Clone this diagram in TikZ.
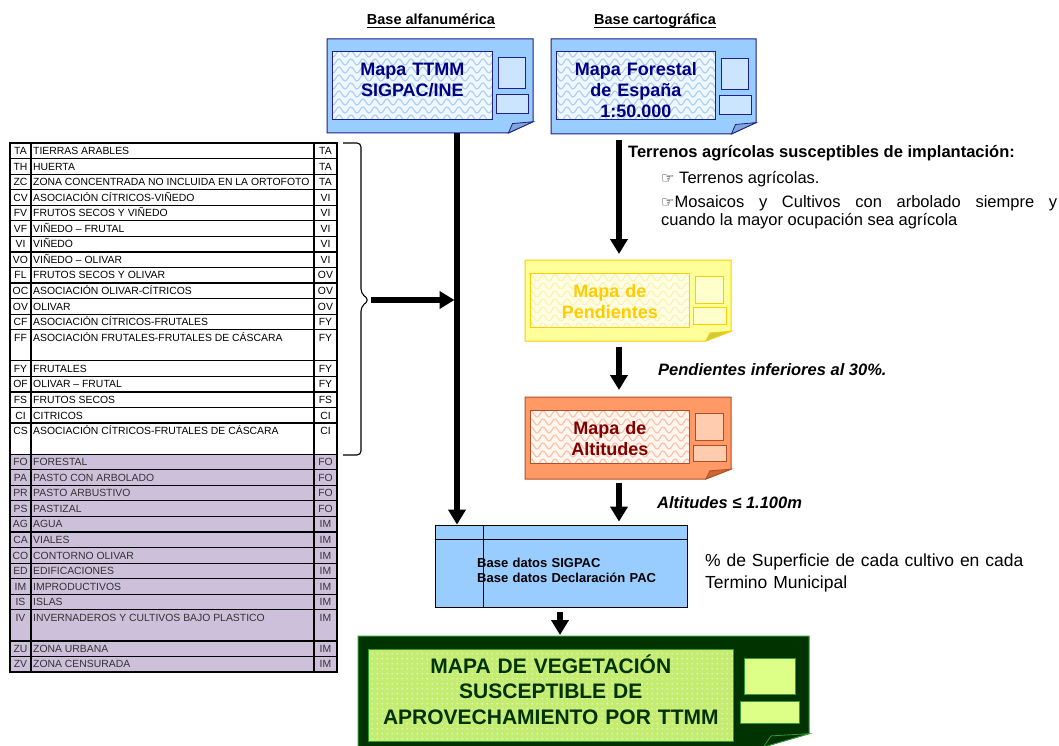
\documentclass[tikz,border=0pt]{standalone}
\usepackage{fontspec}
\setmainfont{Liberation Sans}
\newfontfamily\handfont{DejaVu Sans}
\usetikzlibrary{arrows.meta,patterns}

\definecolor{lilac}{HTML}{CCC0DA}
\definecolor{dbblue}{HTML}{99CCFF}
\definecolor{lilactext}{HTML}{333333}

% colours of one map sheet
\newcommand{\setmapcolors}[7]{%
  \definecolor{mapfill}{HTML}{#1}\definecolor{mapline}{HTML}{#2}%
  \definecolor{mapinner}{HTML}{#3}\definecolor{mapwave}{HTML}{#4}%
  \definecolor{mappanel}{HTML}{#5}\definecolor{maptext}{HTML}{#6}%
  \definecolor{mapfold}{HTML}{#7}}
\setmapcolors{99CCFF}{1F1F8F}{EEF6FF}{A9CDF2}{CCE5FF}{000080}{7FA8D8}

% textures of the map frames
\pgfdeclarepatternformonly{map waves}{\pgfqpoint{-1pt}{-1pt}}{\pgfqpoint{13pt}{9pt}}{\pgfqpoint{12pt}{8pt}}{%
  \pgfsetlinewidth{1pt}%
  \pgfpathmoveto{\pgfqpoint{0pt}{4pt}}%
  \pgfpathcurveto{\pgfqpoint{2pt}{8pt}}{\pgfqpoint{4pt}{8pt}}{\pgfqpoint{6pt}{4pt}}%
  \pgfpathcurveto{\pgfqpoint{8pt}{0pt}}{\pgfqpoint{10pt}{0pt}}{\pgfqpoint{12pt}{4pt}}%
  \pgfusepath{stroke}}
\pgfdeclarepatternformonly{map dots}{\pgfqpoint{0pt}{0pt}}{\pgfqpoint{5pt}{5pt}}{\pgfqpoint{5pt}{5pt}}{%
  \pgfpathcircle{\pgfqpoint{2.5pt}{2.5pt}}{0.8pt}%
  \pgfusepath{fill}}

\tikzset{
  map_inner/.style={preaction={fill=mapinner}, pattern=map waves, pattern color=mapwave},
  pics/map_pic/.style n args={4}{code={
    % sheet with folded corner
    \draw[mapline, fill=mapfill, line width=1pt]
      (0,0) -- (#1,0) -- (#1,{0.88*#2}) -- ({#1-0.6*#3},#2) -- (0,#2) -- cycle;
    \draw[mapline, fill=mapfold, line width=0.8pt]
      ({#1-0.6*#3},#2) -- ({#1-0.5*#3},{0.9*#2}) -- (#1,{0.88*#2}) -- cycle;
    % map frame
    \draw[map_inner, draw=mapline, line width=1pt] ({0.14*#3},13) rectangle ({#1-#3},{#2-#4});
    % legend panels
    \draw[mapline, fill=mappanel, line width=0.8pt] ({#1-0.85*#3},{0.2*#2}) rectangle ({#1-0.18*#3},{0.53*#2});
    \draw[mapline, fill=mappanel, line width=0.8pt] ({#1-0.9*#3},{0.59*#2}) rectangle ({#1-0.12*#3},{0.79*#2});

    % characteristic coordinates of sheet
    \coordinate (-top) at ({#1/2},0);
    \coordinate (-bottom) at ({#1/2},#2);
    \coordinate (-label) at ({(0.14*#3+#1-#3)/2},37);
  }}
}

\begin{document}
\begin{tikzpicture}[x=1pt, y=-1pt,
  flow/.style={line width=5.5pt, -{Triangle[length=15pt, width=17pt]}},
  header/.style={font=\fontsize{14.5}{16}\selectfont\bfseries, inner sep=0pt, anchor=base},
  map_title/.style={font=\fontsize{18}{21}\selectfont\bfseries, text=maptext, text width=170pt, align=center, inner sep=0pt, anchor=base},
  cell/.style={draw, line width=1.2pt, fill=white},
  cell_lilac/.style={cell, fill=lilac},
  cell_text/.style={font=\fontsize{10.4}{12}\selectfont, inner sep=0pt, text height=7.4pt, text depth=0pt},
  note/.style={font=\fontsize{16.5}{18}\selectfont, inner sep=0pt, anchor=base west},
  note_bold/.style={note, font=\fontsize{16.5}{18}\selectfont\bfseries},
  note_italic/.style={note, font=\fontsize{16.5}{18}\selectfont\bfseries\itshape},
  db_box/.style={draw, line width=0.8pt, fill=dbblue, minimum width=252pt, minimum height=82pt, inner sep=0pt},
]
  \useasboundingbox (0,0) rectangle (1059,746);

  % tabla de usos SIGPAC
  \foreach \u/\n/\code/\desc/\grp [evaluate=\u as \ytop using 143+\u*15.56, evaluate=\n as \ybot using 143+(\u+\n)*15.56] in {
    0/1/TA/TIERRAS ARABLES/TA, 1/1/TH/HUERTA/TA,
    2/1/ZC/ZONA CONCENTRADA NO INCLUIDA EN LA ORTOFOTO/TA,
    3/1/CV/ASOCIACIÓN CÍTRICOS-VIÑEDO/VI, 4/1/FV/FRUTOS SECOS Y VIÑEDO/VI,
    5/1/VF/VIÑEDO – FRUTAL/VI, 6/1/VI/VIÑEDO/VI, 7/1/VO/VIÑEDO – OLIVAR/VI,
    8/1/FL/FRUTOS SECOS Y OLIVAR/OV, 9/1/OC/ASOCIACIÓN OLIVAR-CÍTRICOS/OV,
    10/1/OV/OLIVAR/OV, 11/1/CF/ASOCIACIÓN CÍTRICOS-FRUTALES/FY,
    12/2/FF/ASOCIACIÓN FRUTALES-FRUTALES DE CÁSCARA/FY,
    14/1/FY/FRUTALES/FY, 15/1/OF/OLIVAR – FRUTAL/FY, 16/1/FS/FRUTOS SECOS/FS,
    17/1/CI/CITRICOS/CI, 18/2/CS/ASOCIACIÓN CÍTRICOS-FRUTALES DE CÁSCARA/CI}{
    \path[cell] (10,\ytop) rectangle (31,\ybot) (31,\ytop) rectangle (314,\ybot) (314,\ytop) rectangle (337,\ybot);
    \node[cell_text] (code-\u) at (20.5,\ytop+7.8) {\code};
    \node[cell_text, anchor=west] (desc-\u) at (33,\ytop+7.8) {\desc};
    \node[cell_text] (grp-\u) at (325.5,\ytop+7.8) {\grp};
  }
  \foreach \u/\n/\code/\desc/\grp [evaluate=\u as \ytop using 143+\u*15.56, evaluate=\n as \ybot using 143+(\u+\n)*15.56] in {
    20/1/FO/FORESTAL/FO, 21/1/PA/PASTO CON ARBOLADO/FO, 22/1/PR/PASTO ARBUSTIVO/FO,
    23/1/PS/PASTIZAL/FO, 24/1/AG/AGUA/IM, 25/1/CA/VIALES/IM, 26/1/CO/CONTORNO OLIVAR/IM,
    27/1/ED/EDIFICACIONES/IM, 28/1/IM/IMPRODUCTIVOS/IM, 29/1/IS/ISLAS/IM,
    30/2/IV/INVERNADEROS Y CULTIVOS BAJO PLASTICO/IM,
    32/1/ZU/ZONA URBANA/IM, 33/1/ZV/ZONA CENSURADA/IM}{
    \path[cell_lilac] (10,\ytop) rectangle (31,\ybot) (31,\ytop) rectangle (314,\ybot) (314,\ytop) rectangle (337,\ybot);
    \node[cell_text, text=lilactext] (code-\u) at (20.5,\ytop+7.8) {\code};
    \node[cell_text, text=lilactext, anchor=west] (desc-\u) at (33,\ytop+7.8) {\desc};
    \node[cell_text, text=lilactext] (grp-\u) at (325.5,\ytop+7.8) {\grp};
  }
  \draw[line width=1.4pt] (10,143) rectangle (337,672);

  % llave
  \coordinate (brace_tip) at (369,300);
  \draw[line width=1.1pt, rounded corners=4pt]
    (343,143) -- (361,143) -- (361,293) -- (brace_tip) -- (361,307) -- (361,455) -- (343,455);

  % base alfanumérica
  \node[header] (hdr_alfa) at (431,25) {Base alfanumérica};
  \draw[line width=1.3pt] ([yshift=-2.5pt]hdr_alfa.base west) -- ([yshift=-2.5pt]hdr_alfa.base east);
  \pic (ttmm) at (327,39) {map_pic={206}{94}{41}{13}};
  \node[map_title] (ttmm_title) at (ttmm-label) {Mapa TTMM\\SIGPAC/INE};

  % base cartográfica
  \node[header] (hdr_carto) at (655,25) {Base cartográfica};
  \draw[line width=1.3pt] ([yshift=-2.5pt]hdr_carto.base west) -- ([yshift=-2.5pt]hdr_carto.base east);
  \pic (forestal) at (551,39) {map_pic={205}{95}{41}{14}};
  \node[map_title] (forestal_title) at (forestal-label) {Mapa Forestal\\de España\\1:50.000};

  % pendientes
  \setmapcolors{FFFF99}{FFCC00}{FFFFE6}{FFF0A8}{FFFFCC}{FFCC00}{CCCC44}
  \pic (pendientes) at (525,260) {map_pic={206}{81}{42}{14}};
  \node[map_title] (pendientes_title) at (pendientes-label) {Mapa de\\Pendientes};

  % altitudes
  \setmapcolors{FF9966}{B0502A}{FFF6F0}{FFBBA0}{FFCCB0}{800000}{CC6633}
  \pic (altitudes) at (525,397) {map_pic={206}{82}{42}{16}};
  \node[map_title] (altitudes_title) at (altitudes-label) {Mapa de\\Altitudes};

  % bases de datos
  \node[db_box] (basedatos) at (561,566) {};
  \draw[line width=0.8pt] ([yshift=-15pt]basedatos.north west) -- ([yshift=-15pt]basedatos.north east);
  \draw[line width=0.8pt] ([xshift=49pt]basedatos.north west) -- ([xshift=49pt]basedatos.south west);
  \node[font=\fontsize{13}{15}\selectfont\bfseries, inner sep=0pt, anchor=base west, text width=200pt, align=left]
    (basedatos_text) at (477,567) {Base datos SIGPAC\\Base datos Declaración PAC};

  % mapa final
  \setmapcolors{003300}{339933}{C4EC70}{FFFFFF}{DDFF88}{003300}{003300}
  \tikzset{map_inner/.style={preaction={fill=mapinner}, pattern=map dots, pattern color=mapwave}}
  \pic (vegetacion) at (358,636) {map_pic={451}{111}{76}{6}};
  \node[map_title, font=\fontsize{21}{25.5}\selectfont\bfseries, text width=360pt]
    (vegetacion_title) at (vegetacion-label) {MAPA DE VEGETACIÓN\\SUSCEPTIBLE DE\\APROVECHAMIENTO POR TTMM};

  % flujo
  \coordinate (left_flow) at (457,0);
  \coordinate (right_flow) at (619,0);
  \coordinate (final_flow) at (560,0);
  \draw[flow] (ttmm-bottom -| left_flow) -- (basedatos.north -| left_flow);
  \draw[flow, shorten <=2pt, shorten >=2.5pt] (brace_tip) -- (brace_tip -| left_flow);
  \draw[flow, shorten <=6pt, shorten >=6pt] (forestal-bottom -| right_flow) -- (pendientes-top -| right_flow);
  \draw[flow, shorten <=6pt, shorten >=7pt] (pendientes-bottom -| right_flow) -- (altitudes-top -| right_flow);
  \draw[flow, shorten <=4pt, shorten >=3pt] (altitudes-bottom -| right_flow) -- (basedatos.north -| right_flow);
  \draw[flow, shorten <=5pt, shorten >=1pt] (basedatos.south -| final_flow) -- (vegetacion-top -| final_flow);

  % criterios
  \node[note_bold] (terrenos_title) at (628,158) {Terrenos agrícolas susceptibles de implantación:};
  \node[note] (terrenos_a) at (661,183) {{\handfont\fontsize{15}{16}\selectfont ☞} Terrenos agrícolas.};
  \node[note, text width=396pt, align=justify] (terrenos_b) at (661,207)
    {{\handfont\fontsize{15}{16}\selectfont ☞}Mosaicos y Cultivos con arbolado siempre y\linebreak cuando la mayor ocupación sea agrícola};
  \node[note_italic] (pendientes_note) at (658,375) {Pendientes inferiores al 30\%.};
  \node[note_italic] (altitudes_note) at (657,508) {Altitudes ≤ 1.100m};
  \node[note, font=\fontsize{17.5}{22}\selectfont, text width=340pt, align=left]
    (superficie_note) at (705,566) {\% de Superficie de cada cultivo en cada\\Termino Municipal};
\end{tikzpicture}
\end{document}
